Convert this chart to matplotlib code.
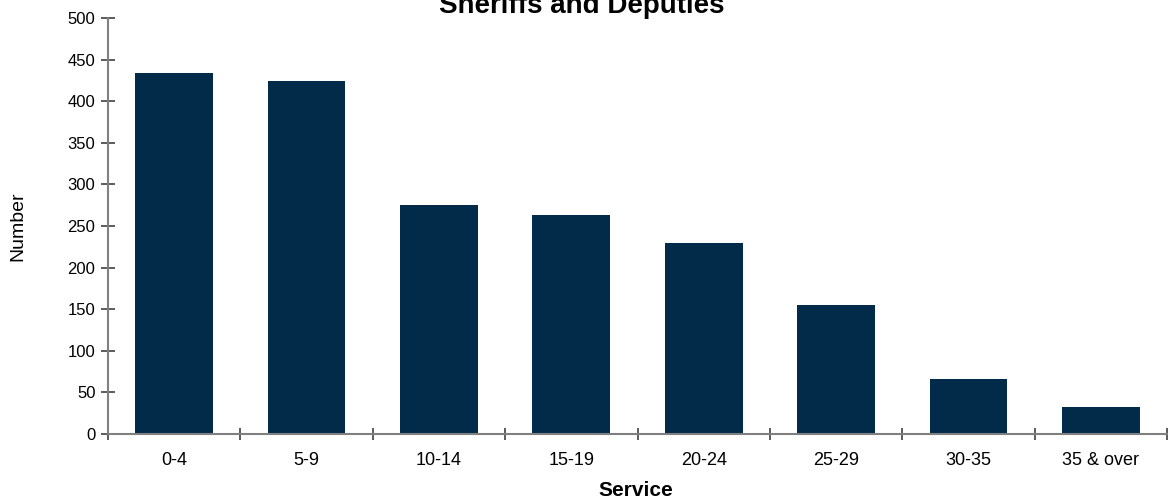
import matplotlib
matplotlib.use("Agg")
import matplotlib.pyplot as plt
import numpy as np

plt.rcParams['font.family'] = ['Liberation Sans', 'DejaVu Sans']

# years of service groups and head counts
service = ["0-4", "5-9", "10-14", "15-19", "20-24", "25-29", "30-35", "35 & over"]
number = [434, 424, 275, 263, 229, 155, 66, 32]

bar_color = "#022b4a"
axis_color = "#808080"

fig = plt.figure(figsize=(11.69, 5.03), dpi=100)
ax = fig.add_axes([108 / 1169, 1 - 434 / 503, (1167 - 108) / 1169, (434 - 18) / 503])

x = np.arange(len(service))
ax.bar(x, number, width=0.587, color=bar_color, zorder=2)

ax.set_xlim(-0.5, len(service) - 0.5)
ax.set_ylim(0, 500)
ax.set_yticks(np.arange(0, 501, 50))

# category labels centred under bars, tick marks on the boundaries
ax.set_xticks(x)
ax.set_xticklabels(service, fontsize=13)
ax.set_xticks(np.arange(-0.5, len(service), 1.0), minor=True)
ax.tick_params(axis="x", which="major", length=0, pad=13)
ax.tick_params(axis="x", which="minor", direction="inout", length=8, width=1.2, color="#404040")
ax.tick_params(axis="y", direction="inout", length=10, width=1.2, color="#404040", labelsize=12, pad=4)

for side in ["top", "right"]:
    ax.spines[side].set_visible(False)
for side in ["left", "bottom"]:
    ax.spines[side].set_color(axis_color)
    ax.spines[side].set_linewidth(1.5)

fig.text(582 / 1169, 1 - 13 / 503, "Sheriffs and Deputies", ha="center", va="baseline",
         fontsize=20, fontweight="bold")
fig.text(636 / 1169, 1 - 490 / 503, "Service", ha="center", va="center",
         fontsize=15, fontweight="bold")
fig.text(18 / 1169, 1 - 226 / 503, "Number", ha="center", va="center",
         rotation=90, fontsize=14)

fig.savefig("out.png", dpi=100)
